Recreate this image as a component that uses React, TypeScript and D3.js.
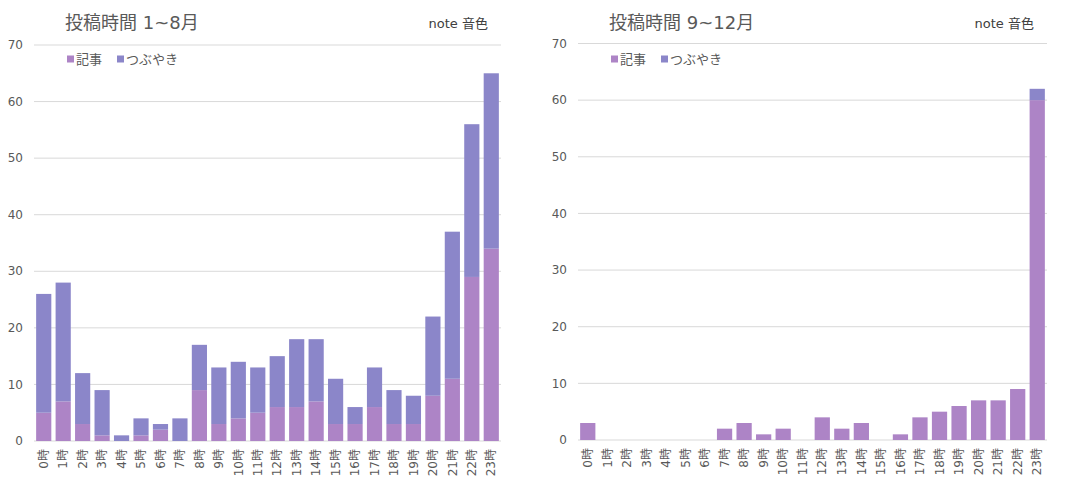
import * as d3 from "d3";
import { useEffect, useRef } from "react";

const hours = d3.range(24).map((h) => `${h}時`);
const yTicks = [0, 10, 20, 30, 40, 50, 60, 70];

// 1~8月
const articlesA = [5, 7, 3, 1, 0, 1, 2, 0, 9, 3, 4, 5, 6, 6, 7, 3, 3, 6, 3, 3, 8, 11, 29, 34];
const tweetsA = [21, 21, 9, 8, 1, 3, 1, 4, 8, 10, 10, 8, 9, 12, 11, 8, 3, 7, 6, 5, 14, 26, 27, 31];

// 9~12月
const articlesB = [3, 0, 0, 0, 0, 0, 0, 2, 3, 1, 2, 0, 4, 2, 3, 0, 1, 4, 5, 6, 7, 7, 9, 60];
const tweetsB = [0, 0, 0, 0, 0, 0, 0, 0, 0, 0, 0, 0, 0, 0, 0, 0, 0, 0, 0, 0, 0, 0, 0, 2];

const seriesNames = ["記事", "つぶやき"];
const colors = ["#AD84C6", "#8B86C9"];
const font = "'DejaVu Sans', 'Noto Sans CJK JP', sans-serif";
const textColor = "#595959";

type Panel = {
  title: string;
  articles: number[];
  tweets: number[];
  left: number;
  right: number;
  top: number;
  bottom: number;
};

const panels: Panel[] = [
  { title: "投稿時間 1~8月", articles: articlesA, tweets: tweetsA, left: 34, right: 501, top: 45, bottom: 441 },
  { title: "投稿時間 9~12月", articles: articlesB, tweets: tweetsB, left: 578, right: 1047, top: 43.5, bottom: 440 },
];

export default function App() {
  const svgRef = useRef<SVGSVGElement | null>(null);
  useEffect(() => {
    if (!svgRef.current) return;
    const svg = d3.select(svgRef.current);
    svg.selectAll("*").remove();
    panels.forEach((p) => drawPanel(svg, p));
  }, []);
  return (
    <svg
      ref={svgRef}
      width={1078}
      height={482}
      style={{ position: "absolute", left: 0, top: 0, background: "#fff" }}
    />
  );
}

function drawPanel(svg: d3.Selection<SVGSVGElement, unknown, null, undefined>, p: Panel) {
  const g = svg.append("g");

  const x = d3.scaleBand().domain(hours).range([p.left, p.right]).paddingInner(0.22).paddingOuter(0.11);
  const y = d3.scaleLinear().domain([0, 70]).range([p.bottom, p.top]);

  // gridlines
  g.selectAll(".grid")
    .data(yTicks)
    .join("line")
    .attr("x1", p.left)
    .attr("x2", p.right)
    .attr("y1", (d) => y(d))
    .attr("y2", (d) => y(d))
    .attr("stroke", "#D9D9D9")
    .attr("stroke-width", 1);

  // y labels
  g.selectAll(".ylab")
    .data(yTicks)
    .join("text")
    .attr("x", p.left - 11)
    .attr("y", (d) => y(d))
    .attr("dy", "0.35em")
    .attr("text-anchor", "end")
    .style("font-family", font)
    .style("font-size", "12px")
    .style("fill", textColor)
    .text((d) => d);

  // stacked bars
  const rows = hours.map((h, i) => ({ hour: h, a: p.articles[i], t: p.tweets[i] }));
  const stack = d3.stack<{ hour: string; a: number; t: number }>().keys(["a", "t"]);
  const layers = stack(rows);

  g.selectAll(".layer")
    .data(layers)
    .join("g")
    .attr("fill", (_, i) => colors[i])
    .selectAll("rect")
    .data((d) => d)
    .join("rect")
    .attr("x", (d) => x(d.data.hour)!)
    .attr("width", x.bandwidth())
    .attr("y", (d) => y(d[1]))
    .attr("height", (d) => y(d[0]) - y(d[1]));

  // x labels
  g.selectAll(".xlab")
    .data(hours)
    .join("text")
    .attr("transform", (d) => `translate(${x(d)! + x.bandwidth() / 2},${p.bottom + 8}) rotate(-90)`)
    .attr("dy", "0.35em")
    .attr("text-anchor", "end")
    .style("font-family", font)
    .style("font-size", "12px")
    .style("fill", textColor)
    .text((d) => d);

  // title
  g.append("text")
    .attr("x", p.left + 31)
    .attr("y", 29)
    .style("font-family", font)
    .style("font-size", "18px")
    .style("fill", textColor)
    .text(p.title);

  g.append("text")
    .attr("x", p.right - 13)
    .attr("y", 28)
    .attr("text-anchor", "end")
    .style("font-family", font)
    .style("font-size", "13px")
    .style("fill", "#404040")
    .text("note 音色");

  // legend
  const legendX = [p.left + 33, p.left + 83];
  seriesNames.forEach((name, i) => {
    g.append("rect")
      .attr("x", legendX[i])
      .attr("y", 55.5)
      .attr("width", 7)
      .attr("height", 7)
      .attr("fill", colors[i]);
    g.append("text")
      .attr("x", legendX[i] + 9)
      .attr("y", 59)
      .attr("dy", "0.35em")
      .style("font-family", font)
      .style("font-size", "13px")
      .style("fill", textColor)
      .text(name);
  });
}
